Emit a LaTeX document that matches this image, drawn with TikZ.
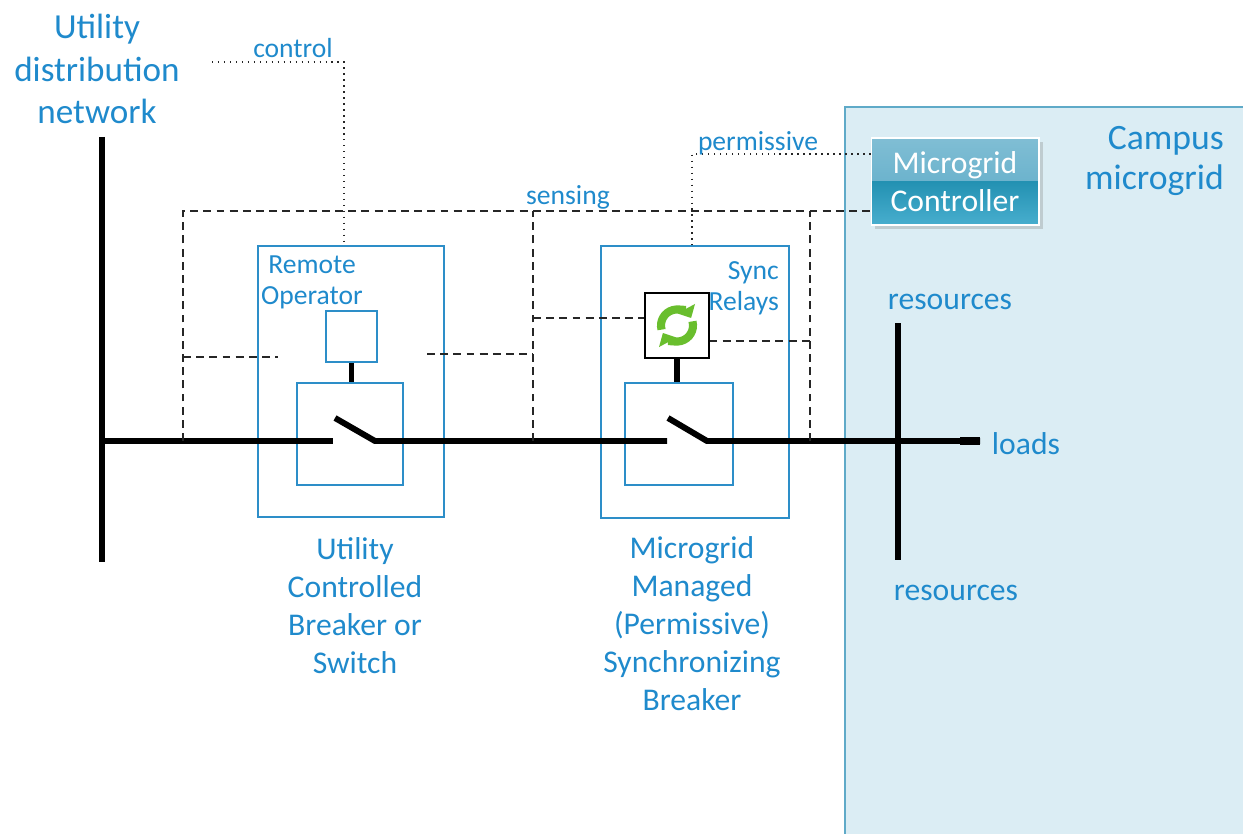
\documentclass[tikz,border=0pt]{standalone}
\usepackage{fontspec}
\setmainfont{Carlito}
\usepackage{tikz}
\usetikzlibrary{arrows.meta, shadows}
\definecolor{gridBlue}{RGB}{31,138,204}
\definecolor{boxBlue}{RGB}{45,142,200}
\definecolor{campusFill}{RGB}{219,237,244}
\definecolor{campusEdge}{RGB}{95,170,200}
\definecolor{ctrlTop}{RGB}{128,190,212}
\definecolor{ctrlMid}{RGB}{88,168,198}
\definecolor{ctrlLow}{RGB}{35,145,178}
\definecolor{ctrlBot}{RGB}{72,174,206}
\definecolor{syncGreen}{RGB}{105,190,45}

\begin{document}
\begin{tikzpicture}[x=0.02cm, y=0.02cm, style={line cap=butt},
  bus/.style={line width=3.4pt, black},
  sense/.style={black!85, line width=0.7pt, dash pattern=on 4.5pt off 3pt},
  ctrl/.style={black!85, line width=0.8pt, dash pattern=on 0.8pt off 2.6pt},
  unit/.style={draw=boxBlue, line width=0.9pt, inner sep=0pt},
  lbl/.style={gridBlue, font=\fontsize{18}{21.6}\selectfont, align=center},
  small/.style={gridBlue, font=\fontsize{15.7}{17.6}\selectfont, align=center}]
  \useasboundingbox (0,0) rectangle (1243,833);
  % campus area
  \draw[draw=campusEdge, fill=campusFill, line width=0.9pt] (845,-20) rectangle (1270,726);
  \node[lbl, font=\fontsize{20.3}{22.7}\selectfont, align=right, anchor=east] (campusLbl) at (1230,672) {Campus\\microgrid};
  \node[draw=ctrlMid, line width=0.6pt, fill=ctrlLow, minimum width=3.36cm, minimum height=1.74cm,
    drop shadow={opacity=0.3, shadow xshift=2pt, shadow yshift=-2pt},
    path picture={
      \shade[top color=ctrlTop, bottom color=ctrlMid] (path picture bounding box.north west) rectangle (path picture bounding box.east);
      \shade[top color=ctrlLow, bottom color=ctrlBot] (path picture bounding box.west) rectangle (path picture bounding box.south east);},
    white, font=\fontsize{18}{22}\selectfont, align=center] (mgc) at (955,651.5) {Microgrid\\Controller};

  % breakers
  \node[unit, minimum width=3.72cm, minimum height=5.42cm] (brkA) at (351,451.5) {};
  \node[unit, minimum width=2.12cm, minimum height=2.04cm] (swA) at (350,399) {};
  \node[unit, minimum width=1.02cm, minimum height=1.02cm] (opA) at (351.5,496.5) {};
  \node[unit, minimum width=3.76cm, minimum height=5.44cm] (brkB) at (695,451) {};
  \node[unit, minimum width=2.16cm, minimum height=2.04cm] (swB) at (679,399) {};
  \node[draw, line width=0.6pt, fill=white, minimum width=1.28cm, minimum height=1.30cm] (sync) at (677,507.5) {};
  \draw[syncGreen, line width=4.6pt, -{Triangle[width=11pt, length=6pt]}] (sync.center) ++(195:16) arc (195:28:16);
  \draw[syncGreen, line width=4.6pt, -{Triangle[width=11pt, length=6pt]}] (sync.center) ++(15:16) arc (15:-152:16);

  % buses
  \coordinate (utilTop) at (102,696);
  \coordinate (utilBot) at (102,271);
  \coordinate (busL) at (102,392);
  \coordinate (swAin) at (333,392);
  \coordinate (swAtip) at (335,415);
  \coordinate (swAout) at (375,392);
  \coordinate (swBin) at (667,392);
  \coordinate (swBtip) at (668,415);
  \coordinate (swBout) at (707,392);
  \coordinate (loadEnd) at (980,392);
  \coordinate (resTop) at (898,510);
  \coordinate (resBot) at (898,273);
  \draw[bus] (utilTop) -- (utilBot);
  \draw[bus] (busL) -- (swAin);
  \draw[bus] (swAtip) -- (swAout) -- (swBin);
  \draw[bus] (swBtip) -- (swBout) -- (loadEnd);
  \draw[bus, line width=4.4pt] (960,392) -- (loadEnd);
  \draw[bus] (resTop) -- (resBot);
  \draw[bus] (opA.south) -- (opA.south |- swA.north);
  \draw[bus] (sync.south) -- (sync.south |- swB.north);

  % sensing
  \coordinate (tapA) at (183,392);
  \coordinate (tapB) at (533,392);
  \coordinate (tapC) at (810,392);
  \coordinate (senseTop) at (183,622);
  \draw[sense] (tapA) -- (senseTop) -- (mgc.west |- senseTop);
  \draw[sense] (tapB) -- (tapB |- senseTop);
  \draw[sense] (tapC) -- (tapC |- senseTop);
  \draw[sense] (183,476) -- (278,476);
  \draw[sense] (427,479) -- (tapB |- 0,479);
  \draw[sense] (tapB |- 0,515) -- (sync.west |- 0,515);
  \draw[sense] (sync.east |- 0,492) -- (tapC |- 0,492);
  \node[small] (senseLbl) at (568,636) {sensing};

  % control and permissive
  \coordinate (ctrlEnd) at (212,771);
  \draw[ctrl] (ctrlEnd) -- (344,771) -- (brkA.north -| 344,0);
  \draw[ctrl] (mgc.west |- 0,679) -- (692,679) -- (brkB.north -| 692,0);
  \node[small] (ctrlLbl) at (293,785) {control};
  \node[small] (permLbl) at (758,690) {permissive};

  % labels
  \node[lbl, font=\fontsize{20}{24}\selectfont] (utilLbl) at (97,764) {Utility\\distribution\\network};
  \node[small] (opLbl) at (312,551) {Remote\\Operator};
  \node[small, align=right, anchor=east] (syncLbl) at (785,545) {Sync\\Relays};
  \node[lbl] (brkALbl) at (355,227) {Utility\\Controlled\\Breaker or\\Switch};
  \node[lbl] (brkBLbl) at (692,209) {Microgrid\\Managed\\(Permissive)\\Synchronizing\\Breaker};
  \node[lbl] (resTopLbl) at (950,531) {resources};
  \node[lbl] (resBotLbl) at (956,240) {resources};
  \node[lbl] (loadLbl) at (1026,389) {loads};
\end{tikzpicture}
\end{document}
